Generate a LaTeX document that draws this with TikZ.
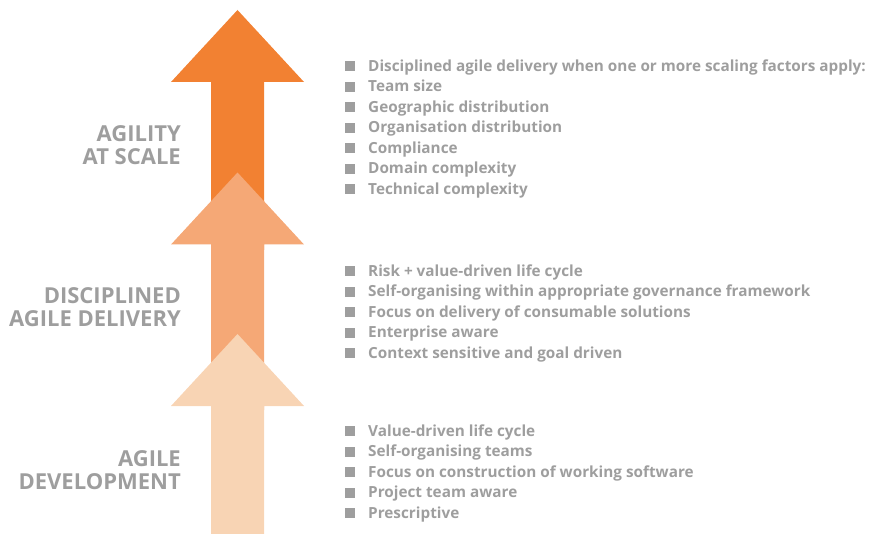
\documentclass[tikz,border=0pt]{standalone}
\usepackage{fontspec}
\setmainfont{Open Sans}
\usepackage{tikz}
\usetikzlibrary{positioning}
\definecolor{scaleorange}{RGB}{242,129,50}
\definecolor{dadorange}{RGB}{245,168,118}
\definecolor{devorange}{RGB}{248,212,180}
\definecolor{labelgray}{RGB}{158,158,158}
\tikzset{
  stagelabel/.style={font=\fontsize{22}{23.5}\selectfont\bfseries, text=labelgray,
    align=right, anchor=east, inner sep=0pt},
  itemlist/.style={font=\fontsize{15.3}{20.5}\selectfont\bfseries, text=labelgray,
    align=left, anchor=north west, inner sep=0pt},
}
\newcommand{\sqbullet}{{\color{labelgray}\rule{10pt}{10pt}}\hspace{13pt}}

\begin{document}
\begin{tikzpicture}[x=1pt, y=-1pt]
      \useasboundingbox (0,0) rectangle (869,534);
      % agility at scale
      \coordinate (S1) at (211,82);
      \coordinate (S2) at (171,82);
      \coordinate (S3) at (237.5,10);
      \coordinate (S4) at (304,82);
      \coordinate (S5) at (264,82);
      \fill[scaleorange] (S1) -- (S2) -- (S3) -- (S4) -- (S5) -- (264,250) -- (211,250) -- cycle;
      % disciplined agile delivery
      \coordinate (D1) at (211,244.5);
      \coordinate (D2) at (171,244.5);
      \coordinate (D3) at (237.5,172.5);
      \coordinate (D4) at (304,244.5);
      \coordinate (D5) at (264,244.5);
      \fill[dadorange] (D1) -- (D2) -- (D3) -- (D4) -- (D5) -- (264,410) -- (211,410) -- cycle;
      % agile development
      \coordinate (A1) at (211,406);
      \coordinate (A2) at (171,406);
      \coordinate (A3) at (237.5,334);
      \coordinate (A4) at (304,406);
      \coordinate (A5) at (264,406);
      \fill[devorange] (A1) -- (A2) -- (A3) -- (A4) -- (A5) -- (264,534) -- (211,534) -- cycle;

      \node[stagelabel] (scale) at (181,145) {AGILITY\\AT SCALE};
      \node[stagelabel] (dad) at (181,307) {DISCIPLINED\\AGILE DELIVERY};
      \node[stagelabel] (dev) at (181,470) {AGILE\\DEVELOPMENT};

      \node[itemlist] (scalelist) at (345,59.5) {%
        \sqbullet Disciplined agile delivery when one or more scaling factors apply:\\
        \sqbullet Team size\\
        \sqbullet Geographic distribution\\
        \sqbullet Organisation distribution\\
        \sqbullet Compliance\\
        \sqbullet Domain complexity\\
        \sqbullet Technical complexity};
      \node[itemlist] (dadlist) at (345,264.5) {%
        \sqbullet Risk + value-driven life cycle\\
        \sqbullet Self-organising within appropriate governance framework\\
        \sqbullet Focus on delivery of consumable solutions\\
        \sqbullet Enterprise aware\\
        \sqbullet Context sensitive and goal driven};
      \node[itemlist] (devlist) at (345,424.5) {%
        \sqbullet Value-driven life cycle\\
        \sqbullet Self-organising teams\\
        \sqbullet Focus on construction of working software\\
        \sqbullet Project team aware\\
        \sqbullet Prescriptive};
    \end{tikzpicture}
\end{document}
